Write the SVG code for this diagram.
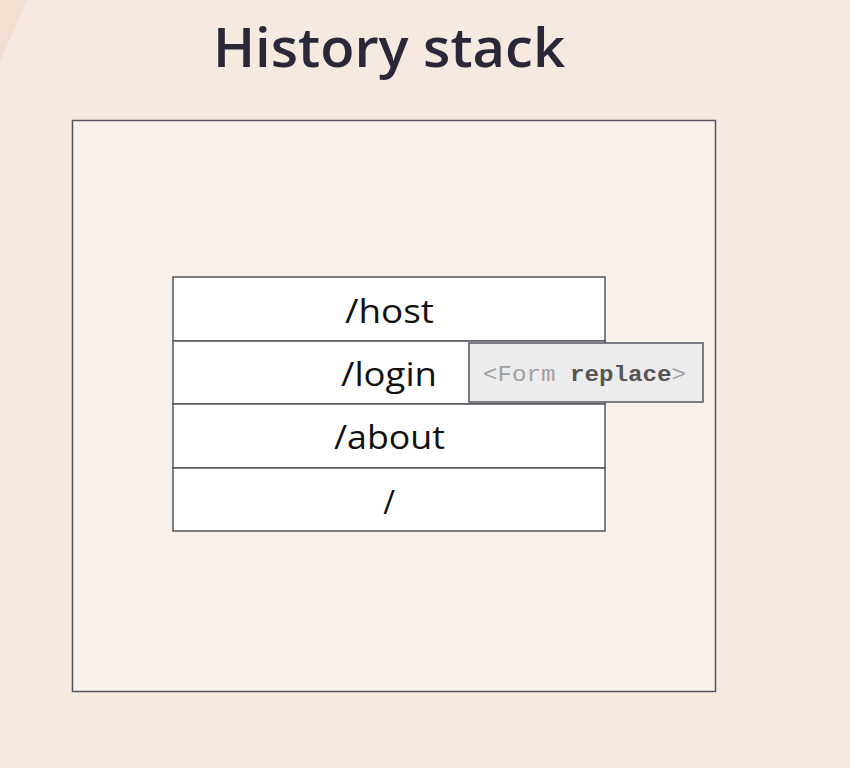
<svg xmlns="http://www.w3.org/2000/svg" width="850" height="768" viewBox="0 0 850 768">
<style>
.row{fill:#ffffff;stroke:#555560;stroke-width:1.5}
.lbl{font-family:"Open Sans","Liberation Sans",sans-serif;font-size:32px;fill:#111111;text-anchor:middle}
.mono{font-family:"Liberation Mono",monospace;font-size:22px}
</style>
<rect x="0" y="0" width="850" height="768" fill="#f5e9e0"/>
<polygon points="0,0 27,0 0,62" fill="#f2dfd2"/>
<text x="389" y="67" text-anchor="middle" font-family="'Open Sans','Liberation Sans',sans-serif" font-weight="600" font-size="54" fill="#2a2838" textLength="352" lengthAdjust="spacingAndGlyphs">History stack</text>
<g id="container">
<rect x="72.5" y="120.5" width="643" height="571" fill="#f8f0eb" stroke="#555560" stroke-width="1.5"/>
</g>
<g id="row-host"><rect class="row" x="173" y="277" width="432" height="64"/><text class="lbl" x="389.5" y="323" textLength="89" lengthAdjust="spacingAndGlyphs">/host</text></g>
<g id="row-login"><rect class="row" x="173" y="341" width="432" height="63"/><text class="lbl" x="389" y="386" textLength="96" lengthAdjust="spacingAndGlyphs">/login</text></g>
<g id="row-about"><rect class="row" x="173" y="404" width="432" height="64"/><text class="lbl" x="389.5" y="449" textLength="111" lengthAdjust="spacingAndGlyphs">/about</text></g>
<g id="row-root"><rect class="row" x="173" y="468" width="432" height="63"/><text class="lbl" x="389" y="514">/</text></g>
<g id="form-replace"><rect x="469" y="343" width="234" height="59" fill="#ececec" stroke="#555560" stroke-width="1.5"/><text class="mono" x="584.5" y="381" text-anchor="middle" textLength="203" lengthAdjust="spacingAndGlyphs"><tspan fill="#a0a0a0">&lt;Form </tspan><tspan fill="#555555" font-weight="bold">replace</tspan><tspan fill="#a0a0a0">&gt;</tspan></text></g>
<g id="connectors"></g>
</svg>
